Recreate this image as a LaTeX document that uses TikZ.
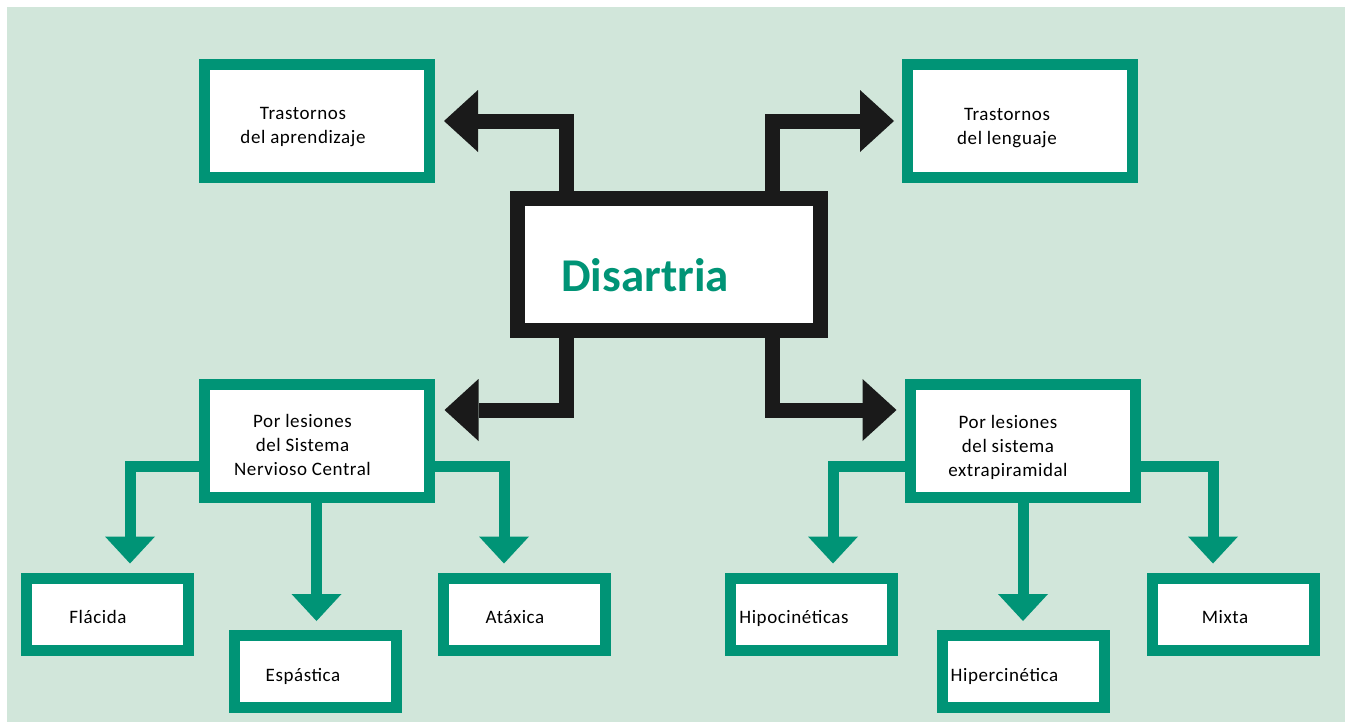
\documentclass[tikz,border=0pt]{standalone}
\usepackage{fontspec}
\setmainfont{Carlito}
\usepackage{xcolor}
\usepackage{tikz}
\usetikzlibrary{positioning,calc,arrows.meta}
\definecolor{verde}{HTML}{009476}
\definecolor{fondo}{HTML}{D1E6DA}
\definecolor{negro}{HTML}{1A1A1A}

\begin{document}
\begin{tikzpicture}[x=1pt,y=-1pt,
    caja/.style={draw=verde, line width=11pt, fill=white, minimum width=225pt, minimum height=113pt, inner sep=0pt},
    hoja/.style={draw=verde, line width=11pt, fill=white, minimum width=162pt, minimum height=72pt, inner sep=0pt},
    central/.style={draw=negro, line width=15pt, fill=white, minimum width=303pt, minimum height=132pt, inner sep=0pt},
    txt/.style={font=\fontsize{19}{24}\selectfont\addfontfeatures{LetterSpace=3}, align=center, text=black, inner sep=0pt},
    flechanegra/.style={draw=negro, line width=15pt, -{Triangle[width=62pt,length=34pt,line width=0pt]}},
    flechaverde/.style={draw=verde, line width=11pt, -{Triangle[width=50pt,length=27pt,line width=0pt]}}]
    \useasboundingbox (0,0) rectangle (1352,726);
    \fill[fondo] (7,7) rectangle (1345,722);

    % Central box
    \node[central] (dis) at (669,264.5) {};
    \node[font=\fontsize{47}{50}\selectfont\bfseries, text=verde, anchor=base, inner sep=0pt] (distxt) at ($(dis)+(-24,26.5)$) {Disartria};

    % Upper boxes
    \node[caja] (tla) at (317,121) {};
    \node[txt] (tlatxt) at ($(tla)+(-14,6)$) {Trastornos\\del aprendizaje};
    \node[caja] (tle) at (1020,121) {};
    \node[txt] (tletxt) at ($(tle)+(-13,7)$) {Trastornos\\del lenguaje};

    % Lower boxes
    \node[caja] (snc) at (316.5,441) {};
    \node[txt] (snctxt) at ($(snc)+(-14,4)$) {Por lesiones\\del Sistema\\Nervioso Central};
    \node[caja] (ext) at (1023,441) {};
    \node[txt] (exttxt) at ($(ext)+(-15,6)$) {Por lesiones\\del sistema\\extrapiramidal};

    % Types
    \node[hoja] (fla) at (107.5,614.5) {};
    \node[txt, anchor=base] (flatxt) at ($(fla)+(-9.5,8.5)$) {Flácida};
    \node[hoja] (esp) at (315.5,671) {};
    \node[txt, anchor=base] (esptxt) at ($(esp)+(-12.5,10)$) {Espástica};
    \node[hoja] (ata) at (524,614.5) {};
    \node[txt, anchor=base] (atatxt) at ($(ata)+(-9,8.5)$) {Atáxica};
    \node[hoja] (hpo) at (811.5,614.5) {};
    \node[txt, anchor=base] (hpotxt) at ($(hpo)+(-17.5,8.5)$) {Hipocinéticas};
    \node[hoja] (hpe) at (1023,671) {};
    \node[txt, anchor=base] (hpetxt) at ($(hpe)+(-18.5,10)$) {Hipercinética};
    \node[hoja] (mix) at (1233,614.5) {};
    \node[txt, anchor=base] (mixtxt) at ($(mix)+(-8,8.5)$) {Mixta};

    % Black arrows
    \draw[flechanegra] ($(dis.north)+(-103,0)$) |- ($(tla.east)+(9,0)$);
    \draw[flechanegra] ($(dis.north)+(103,0)$) |- ($(tle.west)+(-8,0)$);
    \draw[flechanegra] ($(dis.south)+(-103,0)$) |- ($(snc.east)+(10,-31)$);
    \draw[flechanegra] ($(dis.south)+(103,0)$) |- ($(ext.west)+(-8.5,-31)$);

    % Green arrows
    \draw[flechaverde] ($(snc.west)+(0,25.5)$) -| ($(fla.north)+(22.5,-9.5)$);
    \draw[flechaverde] (snc.south) -- ($(snc.south |- esp.north)+(0,-8.5)$);
    \draw[flechaverde] ($(snc.east)+(0,25.5)$) -| ($(ata.north)+(-20,-9.5)$);
    \draw[flechaverde] ($(ext.west)+(0,25.5)$) -| ($(hpo.north)+(21.5,-9.5)$);
    \draw[flechaverde] (ext.south) -- ($(ext.south |- hpe.north)+(0,-8.5)$);
    \draw[flechaverde] ($(ext.east)+(0,25.5)$) -| ($(mix.north)+(-20,-9.5)$);
\end{tikzpicture}
\end{document}
